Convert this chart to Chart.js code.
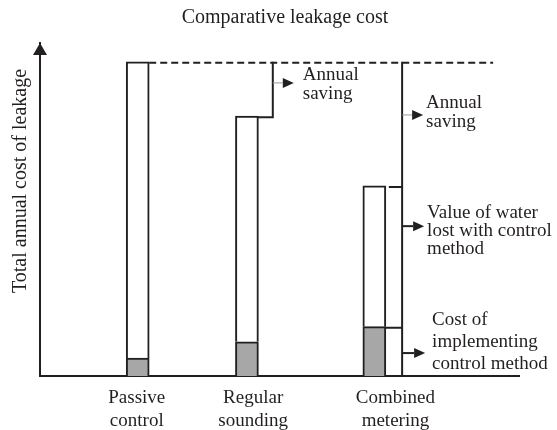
<!DOCTYPE html>
<html>
<head>
<meta charset="utf-8">
<script src="https://cdn.jsdelivr.net/npm/chart.js@4.4.1/dist/chart.umd.min.js"></script>
<style>
    html, body { margin: 0; padding: 0; background: #fff; }
    #wrap { width: 557px; height: 430px; }
</style>
</head>
<body>
<div id="wrap"><canvas id="leakageChart"></canvas></div>
<script>
// Values (0 = baseline, 100 = passive control total)
const categories = [['Passive', 'control'], ['Regular', 'sounding'], ['Combined', 'metering']];
const totalCost = [100, 82.7, 60.5];
const implementCost = [5.7, 10.9, 15.7];

// Layout (x axis runs 0..100, hidden)
const barPos = [20.4, 43.2, 69.8];
const labelPos = [20.2, 44.5, 74.2];
const stepX = 48.6;
const bracketX = 75.6;
const dashEndX = 94.6;

const serif = "'Liberation Serif', 'Times New Roman', serif";
const ink = '#231f20';

// Callout arrows: y in axis units, text offsets in px from the arrow line
const callouts = [
    { from: stepX, y: 93.3, stem: '#9a9a9a', stemW: 1, stemLen: 10, dx: 30, lines: ['Annual', 'saving'], dy: [-3, 16] },
    { from: bracketX, y: 83.1, stem: '#9a9a9a', stemW: 1, stemLen: 10, dx: 24, lines: ['Annual', 'saving'], dy: [-7, 12] },
    { from: bracketX, y: 47.7, stem: ink, stemW: 2, stemLen: 11, dx: 25, lines: ['Value of water', 'lost with control', 'method'], dy: [-8, 10, 28] },
    { from: bracketX, y: 7.3, stem: ink, stemW: 2, stemLen: 12, dx: 30, lines: ['Cost of', 'implementing', 'control method'], dy: [-28, -6, 16] }
];

const diagramPlugin = {
    id: 'diagram',
    afterDatasetsDraw(chart) {
        const { ctx, chartArea } = chart;
        const x = chart.scales.x, y = chart.scales.y;
        const bars = chart.getDatasetMeta(1).data;
        const rightEdge = i => bars[i].x + bars[i].width / 2;
        const py = v => y.getPixelForValue(v) + 1;

        ctx.save();
        ctx.strokeStyle = ink;
        ctx.lineWidth = 2;

        // dashed reference at passive control total
        ctx.setLineDash([7, 4]);
        ctx.beginPath();
        ctx.moveTo(rightEdge(0), py(totalCost[0]));
        ctx.lineTo(x.getPixelForValue(dashEndX), py(totalCost[0]));
        ctx.stroke();
        ctx.setLineDash([]);

        // step for regular sounding saving
        const sx = x.getPixelForValue(stepX);
        ctx.beginPath();
        ctx.moveTo(rightEdge(1) - 1, py(totalCost[1]));
        ctx.lineTo(sx, py(totalCost[1]));
        ctx.lineTo(sx, py(totalCost[0]) - 1);
        ctx.stroke();

        // bracket for combined metering
        const bx = x.getPixelForValue(bracketX);
        ctx.beginPath();
        ctx.moveTo(bx, py(totalCost[0]) - 1);
        ctx.lineTo(bx, chartArea.bottom);
        ctx.moveTo(rightEdge(2) + 3, py(totalCost[2]));
        ctx.lineTo(bx, py(totalCost[2]));
        ctx.moveTo(rightEdge(2) - 1, py(implementCost[2]));
        ctx.lineTo(bx, py(implementCost[2]));
        ctx.stroke();

        // y axis arrow head
        ctx.fillStyle = ink;
        ctx.beginPath();
        ctx.moveTo(chartArea.left, chartArea.top);
        ctx.lineTo(chartArea.left - 7, chartArea.top + 12);
        ctx.lineTo(chartArea.left + 7, chartArea.top + 12);
        ctx.closePath();
        ctx.fill();

        // callouts
        ctx.font = '19px ' + serif;
        ctx.textAlign = 'left';
        ctx.textBaseline = 'alphabetic';
        callouts.forEach(c => {
            const x0 = x.getPixelForValue(c.from);
            const yy = y.getPixelForValue(c.y);
            ctx.strokeStyle = c.stem;
            ctx.lineWidth = c.stemW;
            ctx.beginPath();
            ctx.moveTo(x0, yy);
            ctx.lineTo(x0 + c.stemLen, yy);
            ctx.stroke();
            ctx.fillStyle = ink;
            ctx.beginPath();
            ctx.moveTo(x0 + c.stemLen, yy - 5);
            ctx.lineTo(x0 + c.stemLen + 11, yy);
            ctx.lineTo(x0 + c.stemLen, yy + 5);
            ctx.closePath();
            ctx.fill();
            c.lines.forEach((t, i) => ctx.fillText(t, x0 + c.dx, yy + c.dy[i]));
        });

        // title
        ctx.font = '20px ' + serif;
        ctx.textAlign = 'center';
        ctx.fillText('Comparative leakage cost', 285, 23);

        // y axis title
        ctx.translate(26, 181);
        ctx.rotate(-Math.PI / 2);
        ctx.fillText('Total annual cost of leakage', 0, 0);
        ctx.restore();
    }
};

const ctx = document.getElementById('leakageChart');
new Chart(ctx, {
    type: 'bar',
    data: {
        datasets: [
            {
                label: 'Cost of implementing control method',
                data: barPos.map((p, i) => ({ x: p, y: [0, implementCost[i]] })),
                backgroundColor: '#a7a7a7',
                borderColor: ink,
                borderWidth: 2,
                borderSkipped: 'bottom',
                barThickness: 23,
                grouped: false
            },
            {
                label: 'Value of water lost',
                data: barPos.map((p, i) => ({ x: p, y: [implementCost[i], totalCost[i]] })),
                backgroundColor: '#ffffff',
                borderColor: ink,
                borderWidth: 2,
                borderSkipped: 'bottom',
                barThickness: 23,
                grouped: false
            }
        ]
    },
    options: {
        responsive: true,
        maintainAspectRatio: false,
        animation: false,
        layout: {
            padding: { left: 40, right: 38, top: 43, bottom: 0 }
        },
        plugins: {
            legend: { display: false },
            tooltip: { enabled: false }
        },
        scales: {
            x: {
                type: 'linear',
                min: 0,
                max: 100,
                offset: false,
                grid: { display: false, drawTicks: false, offset: false },
                border: { color: ink, width: 2 },
                afterBuildTicks: scale => {
                    scale.ticks = labelPos.map(v => ({ value: v }));
                },
                afterFit: scale => {
                    scale.height = 54;
                },
                ticks: {
                    autoSkip: false,
                    maxRotation: 0,
                    padding: 11,
                    color: ink,
                    font: { family: serif, size: 19, lineHeight: 1.18 },
                    callback: (value, index) => categories[index]
                }
            },
            y: {
                min: 0,
                max: 106,
                grid: { display: false, drawTicks: false },
                border: { color: ink, width: 2 },
                ticks: { display: false }
            }
        }
    },
    plugins: [diagramPlugin]
});
</script>
</body>
</html>
